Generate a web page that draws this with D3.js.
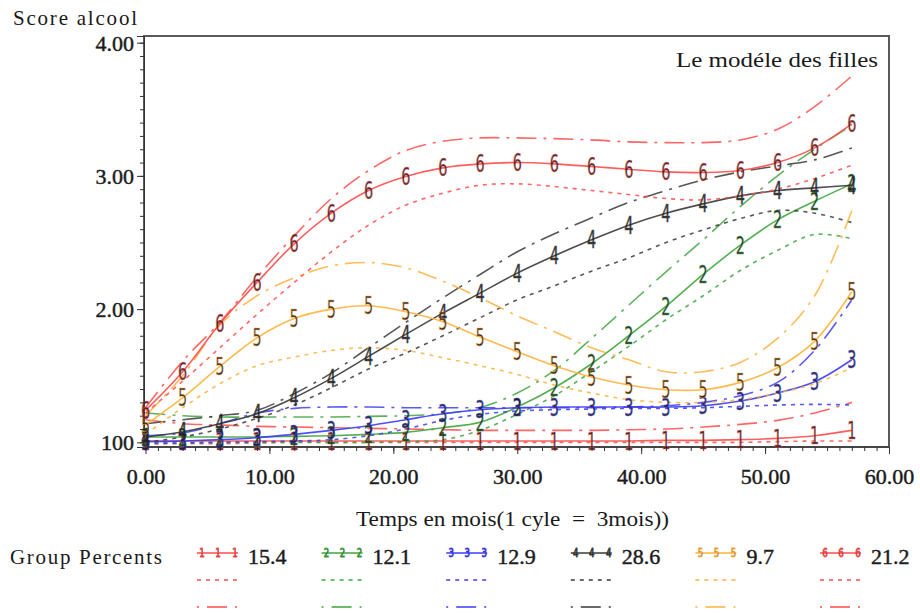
<!DOCTYPE html>
<html>
<head>
<meta charset="utf-8">
<script src="https://cdn.jsdelivr.net/npm/d3@7"></script>
<style>
  body { margin: 0; background: #fff; }
  svg { display: block; }
  text { font-family: "Liberation Serif", "Times New Roman", serif; fill: #1a1a1a; }
</style>
</head>
<body>
<svg id="chart" width="920" height="613"></svg>
<script>
// Measurement occasions (months; one cycle = 3 months)
const months = [0, 3, 6, 9, 12, 15, 18, 21, 24, 27, 30, 33, 36, 39, 42, 45, 48, 51, 54, 57];

// Group trajectories: predicted mean, lower and upper confidence bounds
const g1Mean = [1.01, 1.01, 1.01, 1.01, 1.01, 1.01, 1.01, 1.01, 1.01, 1.01, 1.01, 1.01, 1.01, 1.01, 1.015, 1.015, 1.02, 1.03, 1.05, 1.09];
const g1Low  = [0.99, 0.99, 0.99, 0.995, 1.0, 1.0, 1.0, 1.0, 1.0, 1.0, 1.0, 1.0, 1.0, 1.0, 1.0, 1.0, 1.0, 1.005, 1.01, 1.01];
const g1High = [1.17, 1.14, 1.13, 1.12, 1.115, 1.11, 1.105, 1.10, 1.095, 1.09, 1.09, 1.09, 1.09, 1.095, 1.10, 1.115, 1.135, 1.165, 1.22, 1.30];

const g2Mean = [1.04, 1.04, 1.04, 1.04, 1.045, 1.05, 1.06, 1.075, 1.11, 1.15, 1.265, 1.41, 1.59, 1.80, 2.02, 2.26, 2.48, 2.67, 2.81, 2.94];
const g2Low  = [1.0, 1.0, 1.0, 1.0, 1.0, 1.0, 1.0, 1.005, 1.02, 1.09, 1.21, 1.35, 1.53, 1.72, 1.92, 2.10, 2.29, 2.44, 2.56, 2.53];
const g2High = [1.22, 1.20, 1.19, 1.19, 1.19, 1.19, 1.195, 1.20, 1.215, 1.26, 1.37, 1.54, 1.78, 2.03, 2.28, 2.52, 2.77, 3.00, 3.20, 3.38];

const g3Mean = [1.005, 1.01, 1.02, 1.035, 1.06, 1.09, 1.125, 1.17, 1.215, 1.245, 1.26, 1.265, 1.265, 1.265, 1.265, 1.275, 1.31, 1.37, 1.455, 1.62];
const g3Low  = [0.99, 0.995, 1.0, 1.005, 1.01, 1.02, 1.05, 1.10, 1.165, 1.21, 1.235, 1.245, 1.25, 1.255, 1.255, 1.26, 1.27, 1.28, 1.285, 1.28];
const g3High = [1.05, 1.07, 1.14, 1.22, 1.255, 1.265, 1.265, 1.26, 1.26, 1.26, 1.26, 1.26, 1.26, 1.265, 1.275, 1.30, 1.35, 1.45, 1.69, 2.07];

const g4Mean = [1.04, 1.08, 1.14, 1.215, 1.335, 1.48, 1.645, 1.81, 1.97, 2.12, 2.27, 2.40, 2.52, 2.63, 2.72, 2.79, 2.85, 2.89, 2.91, 2.93];
const g4Low  = [1.0, 1.04, 1.10, 1.18, 1.28, 1.41, 1.55, 1.67, 1.80, 1.935, 2.07, 2.175, 2.285, 2.385, 2.50, 2.595, 2.68, 2.74, 2.72, 2.65];
const g4High = [1.14, 1.17, 1.20, 1.24, 1.365, 1.52, 1.71, 1.90, 2.085, 2.26, 2.43, 2.565, 2.685, 2.80, 2.89, 2.97, 3.03, 3.075, 3.12, 3.21];

const g5Mean = [1.13, 1.335, 1.57, 1.785, 1.93, 2.00, 2.025, 1.98, 1.905, 1.79, 1.68, 1.575, 1.49, 1.43, 1.395, 1.395, 1.45, 1.56, 1.76, 2.13];
const g5Low  = [1.06, 1.26, 1.44, 1.575, 1.64, 1.69, 1.71, 1.69, 1.635, 1.575, 1.51, 1.43, 1.37, 1.32, 1.30, 1.30, 1.32, 1.37, 1.44, 1.56];
const g5High = [1.20, 1.50, 1.88, 2.10, 2.235, 2.325, 2.35, 2.31, 2.21, 2.085, 1.95, 1.83, 1.71, 1.62, 1.53, 1.53, 1.60, 1.78, 2.10, 2.74];

const g6Mean = [1.24, 1.53, 1.89, 2.20, 2.49, 2.72, 2.89, 2.995, 3.06, 3.09, 3.10, 3.09, 3.07, 3.05, 3.03, 3.025, 3.04, 3.10, 3.21, 3.39];
const g6Low  = [1.22, 1.46, 1.71, 1.96, 2.20, 2.43, 2.63, 2.78, 2.87, 2.93, 2.94, 2.92, 2.89, 2.86, 2.83, 2.82, 2.85, 2.90, 2.98, 3.08];
const g6High = [1.26, 1.61, 1.90, 2.24, 2.55, 2.83, 3.04, 3.19, 3.26, 3.285, 3.285, 3.28, 3.27, 3.255, 3.25, 3.25, 3.27, 3.35, 3.52, 3.75];

const groupIds      = ["1", "2", "3", "4", "5", "6"];
const groupPercents = ["15.4", "12.1", "12.9", "28.6", "9.7", "21.2"];
const groupColors   = ["#ff4c4c", "#3ea53e", "#3c3cf5", "#3a3a3a", "#ffb23c", "#ff4c4c"];

// Axis ticks
const xTickValues = [0, 10, 20, 30, 40, 50, 60];
const xTickLabels = ["0.00", "10.00", "20.00", "30.00", "40.00", "50.00", "60.00"];
const yTickValues = [1, 2, 3, 4];
const yTickLabels = ["100", "2.00", "3.00", "4.00"];

const chartTitle = "Score alcool";
const modelLabel = "Le modéle des filles";
const xAxisTitle = "Temps en mois(1 cyle  =  3mois))";
const legendTitle = "Group Percents";

const groups = [
  { mean: g1Mean, low: g1Low, high: g1High },
  { mean: g2Mean, low: g2Low, high: g2High },
  { mean: g3Mean, low: g3Low, high: g3High },
  { mean: g4Mean, low: g4Low, high: g4High },
  { mean: g5Mean, low: g5Low, high: g5High },
  { mean: g6Mean, low: g6Low, high: g6High }
];

const svg = d3.select("#chart");
const plot = { left: 144, right: 889, top: 36, bottom: 447 };

const x = d3.scaleLinear().domain([0, 60]).range([145.5, 889]);
const y = d3.scaleLinear().domain([0.965, 4.05]).range([plot.bottom, plot.top]);

const dotted = "4,5";
const dashDot = "20,7,3,7";

// Semi-bold look for tick and legend numbers
const heavy = sel => sel.attr("stroke", "#222").attr("stroke-width", 0.45).attr("fill", "#222");

// Plot frame
svg.append("rect")
  .attr("x", plot.left).attr("y", plot.top)
  .attr("width", plot.right - plot.left).attr("height", plot.bottom - plot.top)
  .attr("fill", "none").attr("stroke", "#5a5a5a").attr("stroke-width", 2);

// Y axis: major and minor ticks
const yMinor = d3.range(10, 41).map(d => d / 10);
svg.append("g").attr("transform", `translate(${plot.left},0)`)
  .call(d3.axisLeft(y).tickValues(yMinor).tickSize(4).tickFormat(""))
  .call(g => g.select(".domain").remove())
  .call(g => g.selectAll("line").attr("stroke", "#333"));
const yAxis = svg.append("g").attr("transform", `translate(${plot.left},0)`)
  .call(d3.axisLeft(y).tickValues(yTickValues).tickSize(7).tickPadding(3)
    .tickFormat((d, i) => yTickLabels[i]));
yAxis.select(".domain").attr("stroke", "#333");
yAxis.selectAll("line").attr("stroke", "#333");
yAxis.selectAll("text")
  .style("font-family", '"Liberation Serif", serif')
  .style("font-size", "22px")
  .attr("dy", "0.34em").call(heavy);

// X axis: major and minor ticks
const xMinor = d3.range(0, 61);
svg.append("g").attr("transform", `translate(0,${plot.bottom})`)
  .call(d3.axisBottom(x).tickValues(xMinor).tickSize(4).tickFormat(""))
  .call(g => g.select(".domain").remove())
  .call(g => g.selectAll("line").attr("stroke", "#333"));
const xAxis = svg.append("g").attr("transform", `translate(0,${plot.bottom})`)
  .call(d3.axisBottom(x).tickValues(xTickValues).tickSize(7).tickPadding(14)
    .tickFormat((d, i) => xTickLabels[i]));
xAxis.select(".domain").attr("stroke", "#333").attr("d", `M${plot.left},0H${plot.right}`);
xAxis.selectAll("line").attr("stroke", "#333");
xAxis.selectAll("text")
  .style("font-family", '"Liberation Serif", serif')
  .style("font-size", "22px").call(heavy);

// Trajectory lines
const line = d3.line()
  .x(d => x(d[0]))
  .y(d => y(d[1]))
  .curve(d3.curveCatmullRom.alpha(0.5));

const series = svg.append("g");
groups.forEach((g, i) => {
  const c = groupColors[i];
  const pts = k => months.map((m, j) => [m, g[k][j]]);
  series.append("path").attr("d", line(pts("low")))
    .attr("fill", "none").attr("stroke", c).attr("stroke-width", 1.6)
    .attr("stroke-dasharray", dotted).attr("opacity", 0.85);
  series.append("path").attr("d", line(pts("high")))
    .attr("fill", "none").attr("stroke", c).attr("stroke-width", 1.6)
    .attr("stroke-dasharray", dashDot).attr("opacity", 0.85);
  series.append("path").attr("d", line(pts("mean")))
    .attr("fill", "none").attr("stroke", c).attr("stroke-width", 1.6).attr("opacity", 0.9);
});

// Group number markers on the mean trajectories (thin hollow digits)
groups.forEach((g, i) => {
  const c = groupColors[i];
  series.append("g").selectAll("text")
    .data(months.map((m, j) => [m, g.mean[j]]))
    .join("text")
    .attr("transform", d => `translate(${x(d[0])},${y(d[1]) + 8.5}) scale(0.6,1)`)
    .attr("text-anchor", "middle")
    .style("font-family", '"DejaVu Sans", sans-serif')
    .style("font-size", "24px")
    .attr("fill", "none").attr("stroke", c).attr("stroke-width", 0.55)
    .attr("opacity", 0.9)
    .text(groupIds[i]);
});

// Titles
svg.append("text").attr("x", 13).attr("y", 25)
  .attr("textLength", 124).attr("lengthAdjust", "spacing")
  .style("font-size", "21px").text(chartTitle);
svg.append("text").attr("x", 676).attr("y", 67)
  .attr("textLength", 202).attr("lengthAdjust", "spacingAndGlyphs")
  .style("font-size", "22px").text(modelLabel);
svg.append("text").attr("x", 356).attr("y", 526)
  .attr("textLength", 313).attr("lengthAdjust", "spacingAndGlyphs")
  .attr("xml:space", "preserve").style("white-space", "pre")
  .style("font-size", "21px").text(xAxisTitle);

// Legend
const legend = svg.append("g");
legend.append("text").attr("x", 10).attr("y", 564)
  .attr("textLength", 152).attr("lengthAdjust", "spacing")
  .style("font-size", "21px").text(legendTitle);
groupIds.forEach((id, i) => {
  const x0 = 197 + i * 124.6;
  const c = groupColors[i];
  legend.append("line").attr("x1", x0).attr("x2", x0 + 41).attr("y1", 553).attr("y2", 553)
    .attr("stroke", c).attr("stroke-width", 1.6);
  [5, 21, 38].forEach(dx => {
    legend.append("text")
      .attr("transform", `translate(${x0 + dx},${557}) scale(0.72,1)`)
      .attr("text-anchor", "middle")
      .style("font-family", '"DejaVu Sans", sans-serif').style("font-size", "12px")
      .attr("fill", "none").attr("stroke", c).attr("stroke-width", 0.8)
      .text(id);
  });
  legend.append("line").attr("x1", x0).attr("x2", x0 + 41).attr("y1", 580).attr("y2", 580)
    .attr("stroke", c).attr("stroke-width", 1.6).attr("stroke-dasharray", dotted);
  legend.append("line").attr("x1", x0).attr("x2", x0 + 40).attr("y1", 607).attr("y2", 607)
    .attr("stroke", c).attr("stroke-width", 1.6).attr("stroke-dasharray", "2,8,20,8");
  legend.append("text").attr("x", x0 + 51).attr("y", 564)
    .style("font-size", "22px").call(heavy).text(groupPercents[i]);
});
</script>
</body>
</html>
